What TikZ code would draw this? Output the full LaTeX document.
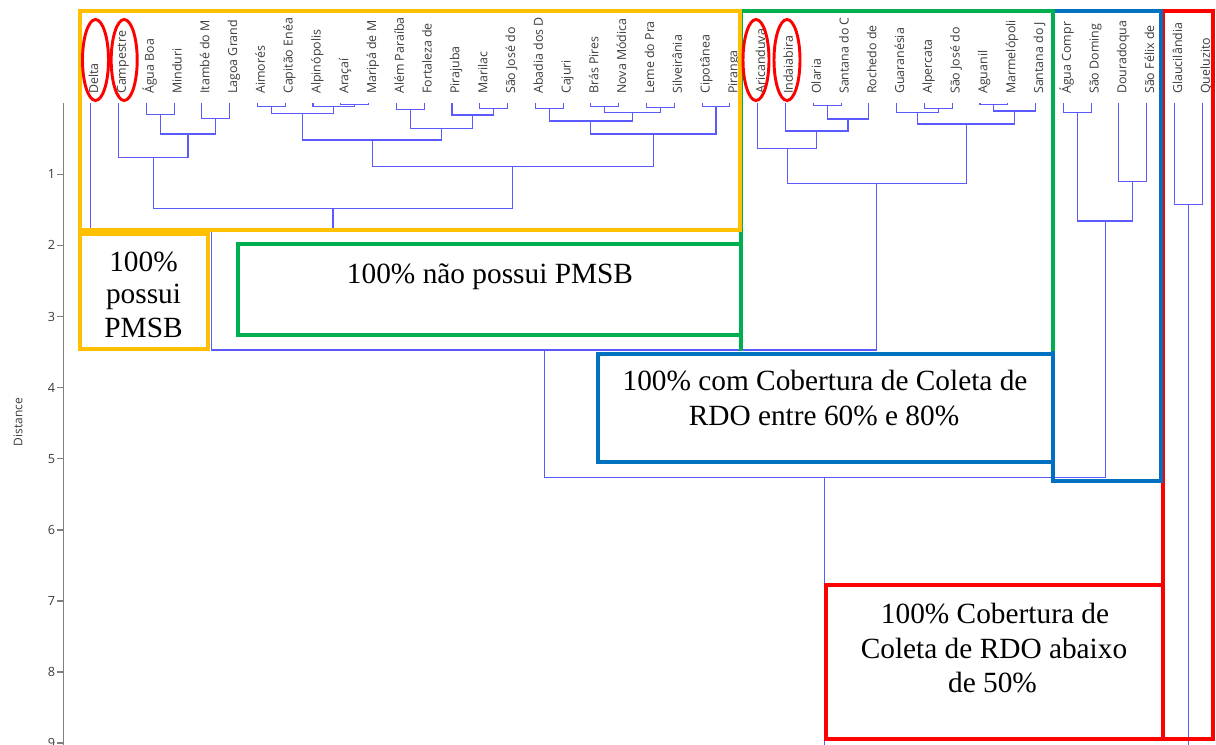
\documentclass[tikz,border=0pt]{standalone}
\usepackage{fontspec}
\setmainfont{Liberation Serif}
\newfontfamily\lblfont{Open Sans}
\usetikzlibrary{calc}
\definecolor{dblue}{RGB}{90,90,255}
\definecolor{fyellow}{RGB}{255,192,0}
\definecolor{fgreen}{RGB}{0,176,80}
\definecolor{fblue}{RGB}{0,112,192}
\definecolor{fred}{RGB}{255,0,0}
\definecolor{axgray}{RGB}{128,128,128}
\definecolor{lblgray}{RGB}{60,60,60}
\newcommand{\dmerge}[4]{%
  \coordinate (dmmid) at ($(#2)!0.5!(#3)$);
  \coordinate (dmh) at (0,#4);
  \coordinate (#1) at (dmmid |- dmh);
  \draw[dend] (#2) |- (#1) -| (#3);
}
\begin{document}
\begin{tikzpicture}[x=0.75pt,y=-0.75pt,
  dend/.style={draw=dblue,line width=0.8pt},
  frame/.style={line width=3pt},
  lbl/.style={rotate=90,anchor=base west,inner sep=0pt,font=\lblfont\fontsize{9.3}{11}\selectfont,text=lblgray},
  tick/.style={anchor=east,inner sep=0pt,font=\lblfont\fontsize{9.5}{11}\selectfont,text=lblgray},
  axis/.style={draw=axgray,line width=1.1pt},
  boxtxt/.style={anchor=base,inner sep=0pt,font=\fontsize{22}{26}\selectfont},
  ring/.style={draw=fred,line width=2.2pt}]
\useasboundingbox (0,0) rectangle (1216,745);
\fill[white] (0,0) rectangle (1216,745);

% leaves
\foreach \k in {0,...,40} \coordinate (L\k) at ({90.7+27.79*\k},103.2);

% labels
\begin{scope}
\clip (70,17) rectangle (1216,110);
\foreach \k/\t in {0/Delta,1/Campestre,2/Água Boa,3/Minduri,4/Itambé do M,5/Lagoa Grand,
  6/Aimorés,7/Capitão Enéa,8/Alpinópolis,9/Araçaí,10/Maripá de M,11/Além Paraíba,
  12/Fortaleza de,13/Pirajuba,14/Marilac,15/São José do,16/Abadia dos D,17/Cajuri,
  18/Brás Pires,19/Nova Módica,20/Leme do Pra,21/Silveirânia,22/Cipotânea,23/Piranga,
  24/Aricanduva,25/Indaiabira,26/Olaria,27/Santana do C,28/Rochedo de,29/Guaranésia,
  30/Alpercata,31/São José do,32/Aguanil,33/Marmelópoli,34/Santana do J,
  35/Água Compr,36/São Doming,37/Douradoqua,38/São Félix de,39/Glaucilândia,40/Queluzito}
  \node[lbl] (N\k) at ($(L\k)+(7.5,-9.2)$) {\t};
\end{scope}

% yellow cluster
\dmerge{A23}{L2}{L3}{114.3}
\dmerge{A45}{L4}{L5}{118.3}
\dmerge{A25}{A23}{A45}{134}
\dmerge{A15}{L1}{A25}{157.3}
\dmerge{B67}{L6}{L7}{106.7}
\dmerge{B910}{L9}{L10}{104.3}
\dmerge{B810}{L8}{B910}{106.7}
\dmerge{B610}{B67}{B810}{113.3}
\dmerge{C1112}{L11}{L12}{109.3}
\dmerge{C1415}{L14}{L15}{108.3}
\dmerge{C1315}{L13}{C1415}{115}
\dmerge{C1115}{C1112}{C1315}{128.3}
\dmerge{B615}{B610}{C1115}{140}
\dmerge{D1617}{L16}{L17}{108.3}
\dmerge{D1819}{L18}{L19}{106.7}
\dmerge{D2021}{L20}{L21}{107.3}
\dmerge{D1821}{D1819}{D2021}{112.8}
\dmerge{D1621}{D1617}{D1821}{121}
\dmerge{D2223}{L22}{L23}{106.7}
\dmerge{D1623}{D1621}{D2223}{134}
\dmerge{E623}{B615}{D1623}{166.7}
\dmerge{F123}{A15}{E623}{208.3}
\dmerge{Ycl}{L0}{F123}{229}
% green cluster
\dmerge{G2627}{L26}{L27}{105.5}
\dmerge{G2628}{G2627}{L28}{119}
\dmerge{G2528}{L25}{G2628}{131}
\dmerge{G2428}{L24}{G2528}{148.3}
\dmerge{H3031}{L30}{L31}{108.3}
\dmerge{H2931}{L29}{H3031}{112.3}
\dmerge{H3233}{L32}{L33}{104.2}
\dmerge{H3234}{H3233}{L34}{111}
\dmerge{H2934}{H2931}{H3234}{124}
\dmerge{Gcl}{G2428}{H2934}{183.3}
% blue cluster
\dmerge{K3536}{L35}{L36}{112.3}
\dmerge{K3738}{L37}{L38}{181.7}
\dmerge{Kcl}{K3536}{K3738}{221}
% red cluster
\dmerge{Rcl}{L39}{L40}{204.3}
% upper joins
\dmerge{YG}{Ycl}{Gcl}{350}
\dmerge{YGB}{YG}{Kcl}{477.7}
\coordinate (bot) at (0,760);
\draw[dend] (YGB) -- (YGB |- bot);
\draw[dend] (Rcl) -- (Rcl |- bot);

% axis
\coordinate (axtop) at (63.3,103.2);
\coordinate (axbot) at (63.3,760);
\draw[axis] (axtop) -- (axbot);
\foreach \d in {1,...,9} {
  \draw[axis] (57,{103.2+71.1*\d}) -- (63.3,{103.2+71.1*\d});
  \node[tick] (T\d) at (55.5,{103.2+71.1*\d}) {\d};
}
\node[rotate=90,inner sep=0pt,font=\lblfont\fontsize{9}{11}\selectfont,text=lblgray] (dist) at (18,422) {Distance};

% frames
\draw[frame,fred] (1162.5,11.5) rectangle (1213.3,739.3);
\draw[frame,fred] (826.3,585) rectangle (1162.5,739.3);
\draw[frame,fblue] (1052.5,11.5) rectangle (1160.5,480.7);
\draw[frame,fblue] (597.5,353.5) rectangle (1052.5,462.3);
\draw[frame,fgreen] (741.3,351) -- (741.3,11.5) -- (1052.5,11.5) -- (1052.5,351);
\draw[frame,fgreen] (238,244) rectangle (741.3,335);
\draw[frame,fyellow] (80.3,11.5) rectangle (740.3,230.5);
\draw[frame,fyellow] (80.3,233.7) rectangle (208,349.2);

% rings
\draw[ring] (95.5,60) ellipse [x radius=13, y radius=40.5];
\draw[ring] (124.2,60) ellipse [x radius=13, y radius=40.5];
\draw[ring] (756,60) ellipse [x radius=13, y radius=40.5];
\draw[ring] (787,60) ellipse [x radius=13, y radius=40.5];

% texts
\node[boxtxt] (yt1) at (143.5,271.7) {100\%};
\node[boxtxt] (yt2) at (143.5,303.5) {possui};
\node[boxtxt] (yt3) at (143.5,337.7) {PMSB};
\node[boxtxt] (gt1) at (490,283.3) {100\% não possui PMSB};
\node[boxtxt] (bt1) at (825,390) {100\% com Cobertura de Coleta de};
\node[boxtxt] (bt2) at (824,425) {RDO entre 60\% e 80\%};
\node[boxtxt] (rt1) at (995,623.3) {100\% Cobertura de};
\node[boxtxt] (rt2) at (994,658.3) {Coleta de RDO abaixo};
\node[boxtxt] (rt3) at (992.5,692.7) {de 50\%};
\end{tikzpicture}
\end{document}
